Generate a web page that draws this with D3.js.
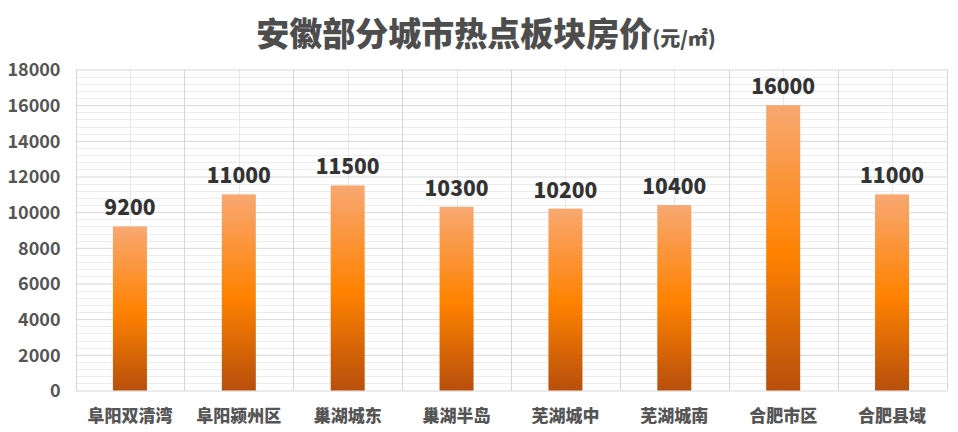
<!DOCTYPE html>
<html><head><meta charset="utf-8">
<script src="https://cdn.jsdelivr.net/npm/d3@7"></script>
<style>body{margin:0;background:#fff}svg{display:block}</style>
</head><body><svg id="c" width="958" height="432"></svg>
<script>
const categories = ["阜阳双清湾","阜阳颍州区","巢湖城东","巢湖半岛","芜湖城中","芜湖城南","合肥市区","合肥县域"];
const values = [9200,11000,11500,10300,10200,10400,16000,11000];
const yTicks = [0,2000,4000,6000,8000,10000,12000,14000,16000,18000];
const titleMain = "安徽部分城市热点板块房价";
const titleUnit = "(元/㎡)";

const svg = d3.select("#c");
const W = 958, H = 432;
const L = 75.5, R = 946.5, T = 69.5, B = 390.5;
const x = d3.scaleBand().domain(categories).range([L, R]).paddingInner(0).paddingOuter(0);
const y = d3.scaleLinear().domain([0, 18000]).range([B, T]);
const font = "'Noto Sans CJK SC','Noto Sans',sans-serif";

const defs = svg.append("defs");
const g = defs.append("linearGradient").attr("id","bg").attr("x1",0).attr("y1",0).attr("x2",0).attr("y2",1);
g.append("stop").attr("offset","0%").attr("stop-color","#f8a872");
g.append("stop").attr("offset","52%").attr("stop-color","#ff8200");
g.append("stop").attr("offset","100%").attr("stop-color","#b84f0c");

// minor horizontal grid
const minor = d3.range(0, 18001, 400).filter(v => v % 2000 !== 0);
svg.append("g").selectAll("line").data(minor).join("line")
  .attr("x1", L).attr("x2", R).attr("y1", d => Math.round(y(d))+0.5).attr("y2", d => Math.round(y(d))+0.5)
  .attr("stroke", "#ececec").attr("stroke-width", 1);
// vertical grid: category centers (light) and boundaries
svg.append("g").selectAll("line").data(categories).join("line")
  .attr("x1", d => Math.round(x(d) + x.bandwidth()/2)+0.5).attr("x2", d => Math.round(x(d) + x.bandwidth()/2)+0.5)
  .attr("y1", T).attr("y2", B).attr("stroke", "#e6e6e6");
const bounds = categories.map(d => x(d)).concat([R]);
svg.append("g").selectAll("line").data(bounds).join("line")
  .attr("x1", d => Math.round(d)+0.5).attr("x2", d => Math.round(d)+0.5)
  .attr("y1", T).attr("y2", B).attr("stroke", "#d6d6d6");
// major horizontal grid via axis
const yAxis = d3.axisLeft(y).tickValues(yTicks).tickSize(-(R - L)).tickFormat(d3.format("d"));
const ya = svg.append("g").attr("transform", `translate(${L},0)`).call(yAxis);
ya.select(".domain").remove();
ya.selectAll(".tick line").attr("stroke", "#d6d6d6");
ya.selectAll(".tick text").attr("x", -15).attr("dy", "0.36em")
  .attr("font-family", font).attr("font-weight", "bold").attr("font-size", 18).attr("fill", "#555");

// bars
const bw = 34;
svg.append("g").selectAll("rect").data(values).join("rect")
  .attr("x", (d,i) => x(categories[i]) + x.bandwidth()/2 - bw/2)
  .attr("width", bw)
  .attr("y", d => y(d)).attr("height", d => B - y(d))
  .attr("fill", "url(#bg)");

// value labels
svg.append("g").selectAll("text").data(values).join("text")
  .attr("x", (d,i) => x(categories[i]) + x.bandwidth()/2)
  .attr("y", d => y(d) - 11)
  .attr("text-anchor", "middle")
  .attr("font-family", font).attr("font-weight", 900).attr("font-size", 21).attr("fill", "#333")
  .text(d => d);

// x axis labels
const xAxis = d3.axisBottom(x).tickSize(0);
const xa = svg.append("g").attr("transform", `translate(0,${B})`).call(xAxis);
xa.select(".domain").remove();
xa.selectAll(".tick text").attr("dy", 0).attr("y", 31)
  .attr("font-family", font).attr("font-weight", 900).attr("font-size", 17).attr("fill", "#555");

// title
const t = svg.append("text").attr("x", 486).attr("y", 46).attr("text-anchor", "middle")
  .attr("font-family", font).attr("font-weight", 900).attr("fill", "#4d4d4d");
t.append("tspan").attr("font-size", 33).text(titleMain);
t.append("tspan").attr("font-size", 20).text(titleUnit);
</script></body></html>
